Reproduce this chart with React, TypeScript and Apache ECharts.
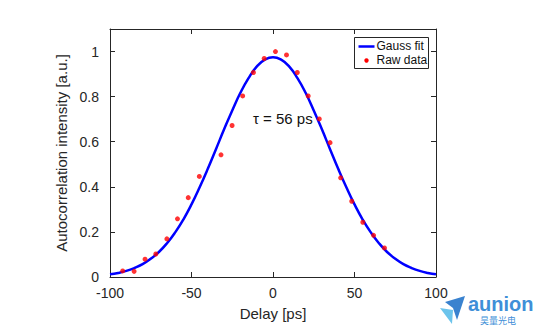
import React, { useEffect, useRef } from "react";
import * as echarts from "echarts";

const rawDelay = [-92.2, -85.2, -78.5, -71.9, -65.1, -58.6, -52.0, -45.2, -31.9, -25.1, -18.6, -12.0, -5.4, 1.5, 8.3, 14.9, 21.6, 28.4, 35.0, 41.5, 48.3, 55.1, 61.7, 68.4];
const rawIntensity = [0.027, 0.025, 0.079, 0.102, 0.169, 0.258, 0.352, 0.446, 0.542, 0.672, 0.803, 0.907, 0.969, 1.0, 0.985, 0.907, 0.803, 0.701, 0.596, 0.44, 0.336, 0.243, 0.185, 0.129];

const fitDelay = [-100, -95, -90, -85, -80, -75, -70, -65, -60, -55, -50, -45, -40, -35, -30, -25, -20, -15, -10, -5, 0, 5, 10, 15, 20, 25, 30, 35, 40, 45, 50, 55, 60, 65, 70, 75, 80, 85, 90, 95, 100];
const fitIntensity = [0.012, 0.018, 0.027, 0.04, 0.057, 0.081, 0.111, 0.15, 0.198, 0.255, 0.322, 0.398, 0.48, 0.567, 0.655, 0.739, 0.817, 0.882, 0.933, 0.964, 0.975, 0.964, 0.933, 0.882, 0.817, 0.739, 0.655, 0.567, 0.48, 0.398, 0.322, 0.255, 0.198, 0.15, 0.111, 0.081, 0.057, 0.04, 0.027, 0.018, 0.012];

const xTicks = [-100, -50, 0, 50, 100];
const yTickLabels = ["0", "0.2", "0.4", "0.6", "0.8", "1"];

const FONT = "Liberation Sans, Arial, sans-serif";
const TEXT = "#262626";
const AXIS = "#262626";

export default function App() {
  const ref = useRef<HTMLDivElement>(null);
  useEffect(() => {
    if (!ref.current) return;
    const chart = echarts.init(ref.current, undefined, { renderer: "svg" });
    const axisCommon = {
      axisLine: { show: true, onZero: false, lineStyle: { color: AXIS, width: 1 } },
      axisTick: { show: true, inside: true, length: 5, lineStyle: { color: AXIS } },
      splitLine: { show: false },
    };
    chart.setOption({
      animation: false,
      backgroundColor: "#ffffff",
      textStyle: { fontFamily: FONT },
      grid: { left: 110, right: 109, top: 29, bottom: 59 },
      xAxis: [
        {
          type: "value",
          min: -100,
          max: 100,
          interval: 50,
          position: "bottom",
          ...axisCommon,
          axisLabel: {
            color: TEXT,
            fontSize: 14,
            fontFamily: FONT,
            margin: 9,
            formatter: (v: number) => (xTicks.includes(v) ? String(v) : ""),
          },
          name: "Delay [ps]",
          nameLocation: "middle",
          nameGap: 29,
          nameTextStyle: { color: TEXT, fontSize: 15, fontFamily: FONT },
        },
        {
          type: "value",
          min: -100,
          max: 100,
          interval: 50,
          position: "top",
          ...axisCommon,
          axisLabel: { show: false },
        },
      ],
      yAxis: [
        {
          type: "value",
          min: 0,
          max: 1.1,
          interval: 0.2,
          position: "left",
          ...axisCommon,
          axisLabel: {
            color: TEXT,
            fontSize: 14,
            fontFamily: FONT,
            margin: 11,
            formatter: (v: number) => {
              const i = Math.round(v / 0.2);
              return Math.abs(v - i * 0.2) < 1e-6 && i < yTickLabels.length ? yTickLabels[i] : "";
            },
          },
          name: "Autocorrelation intensity [a.u.]",
          nameLocation: "middle",
          nameGap: 37,
          nameTextStyle: { color: TEXT, fontSize: 15, fontFamily: FONT },
        },
        {
          type: "value",
          min: 0,
          max: 1.1,
          interval: 0.2,
          position: "right",
          ...axisCommon,
          axisLabel: { show: false },
        },
      ],
      series: [
        {
          name: "Gauss fit",
          type: "line",
          smooth: true,
          showSymbol: false,
          data: fitDelay.map((x, i) => [x, fitIntensity[i]]),
          lineStyle: { color: "#0000ff", width: 2.5 },
          z: 2,
        },
        {
          name: "Raw data",
          type: "scatter",
          symbol: "circle",
          symbolSize: 5,
          data: rawDelay.map((x, i) => [x, rawIntensity[i]]),
          itemStyle: { color: "#ff0000" },
          z: 3,
        },
      ],
      graphic: [
        {
          type: "text",
          left: 253,
          top: 111,
          style: { text: "τ = 56 ps", fill: "#111", font: `15px ${FONT}` },
        },
        {
          type: "group",
          left: 354,
          top: 37,
          children: [
            { type: "rect", shape: { x: 0, y: 0, width: 74, height: 31 }, style: { fill: "#fff", stroke: "#262626", lineWidth: 1 } },
            { type: "line", shape: { x1: 4, y1: 9, x2: 20, y2: 9 }, style: { stroke: "#0000ff", lineWidth: 2.5 } },
            { type: "text", x: 22, y: 2, style: { text: "Gauss fit", fill: "#111", font: `12px ${FONT}` } },
            { type: "circle", shape: { cx: 12, cy: 23, r: 2.2 }, style: { fill: "#ff0000" } },
            { type: "text", x: 22, y: 16, style: { text: "Raw data", fill: "#111", font: `12px ${FONT}` } },
          ],
        },
        {
          type: "polygon",
          shape: { points: [[445, 302], [465, 296], [457, 320], [453, 308]] },
          style: { fill: "#3a82cf" },
        },
        {
          type: "polygon",
          shape: { points: [[440, 308], [453, 310], [452, 324]] },
          style: { fill: "#6cc4ec" },
        },
        {
          type: "text",
          x: 468,
          y: 304,
          style: { text: "aunion", fill: "#3f8fd8", font: `bold 20px ${FONT}`, verticalAlign: "middle", align: "left" },
        },
        {
          type: "text",
          x: 498,
          y: 320,
          style: { text: "昊量光电", fill: "#3f8fd8", font: `9px "Noto Sans CJK SC"`, verticalAlign: "middle", align: "center" },
        },
      ],
    });
    return () => chart.dispose();
  }, []);
  return <div ref={ref} style={{ position: "absolute", left: 0, top: 0, width: 545, height: 336 }} />;
}
